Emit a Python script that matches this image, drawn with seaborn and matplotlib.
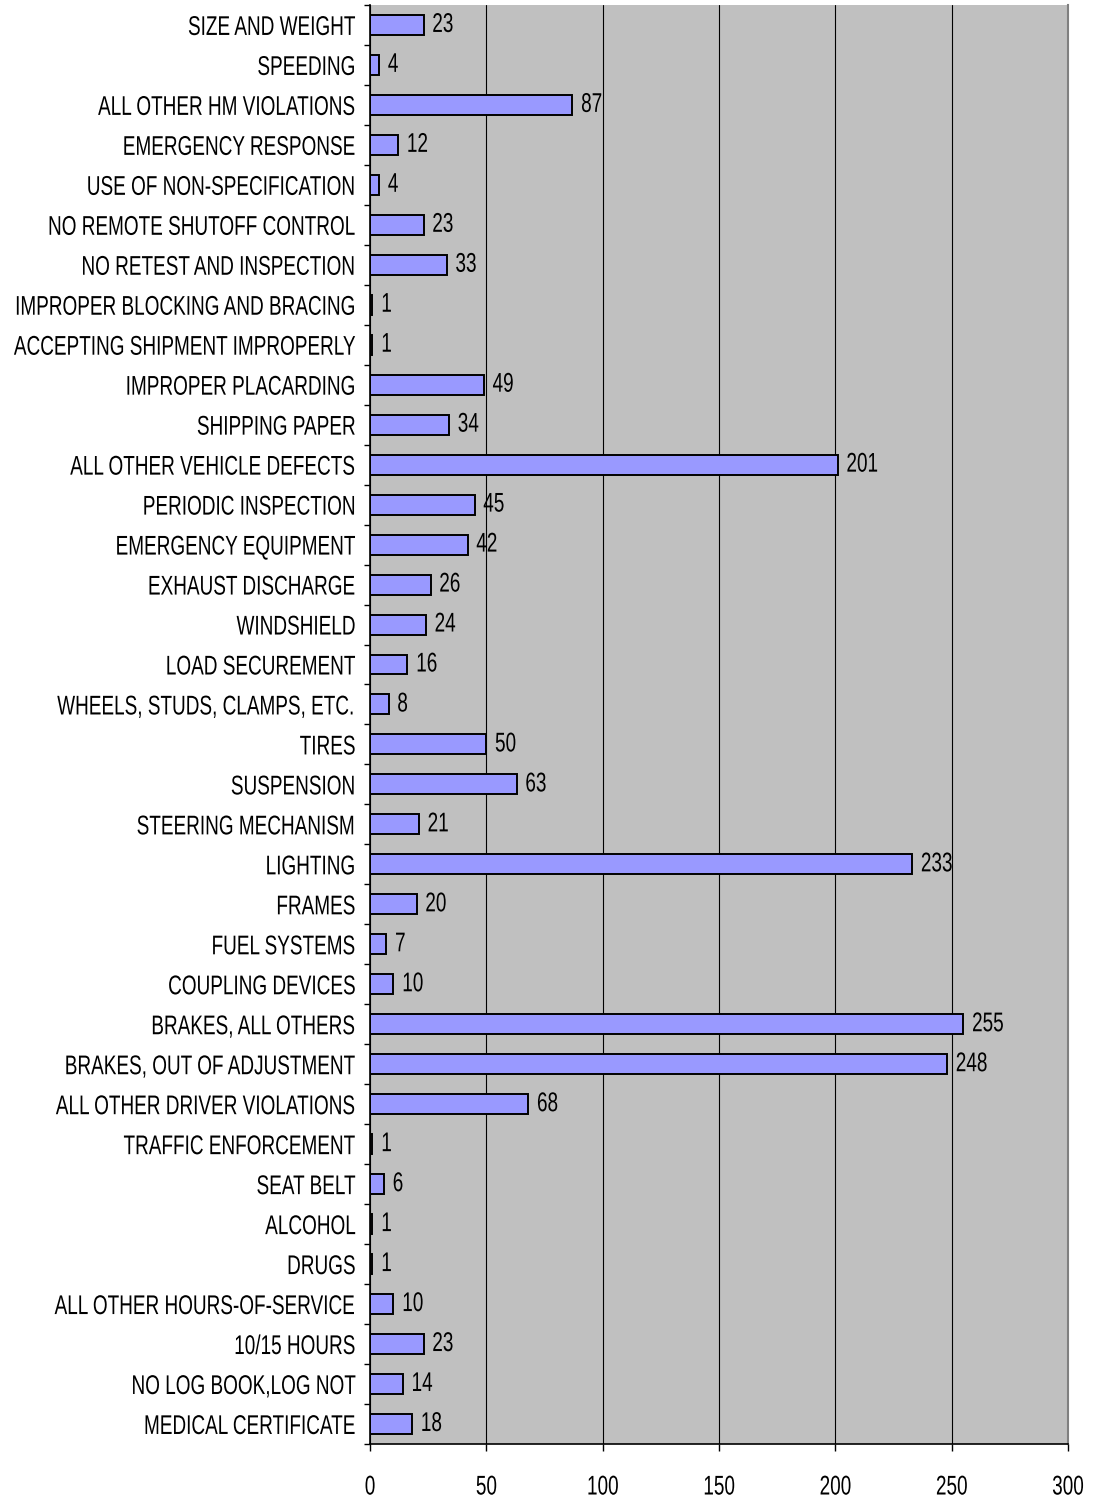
import matplotlib
matplotlib.use("Agg")
import matplotlib.pyplot as plt
from matplotlib.patheffects import AbstractPathEffect
from matplotlib.transforms import Affine2D
import numpy as np
import pandas as pd
import seaborn as sns

# Violation categories (top to bottom) and counts
categories = [
    "SIZE AND WEIGHT", "SPEEDING", "ALL OTHER HM VIOLATIONS", "EMERGENCY RESPONSE",
    "USE OF NON-SPECIFICATION", "NO REMOTE SHUTOFF CONTROL", "NO RETEST AND INSPECTION",
    "IMPROPER BLOCKING AND BRACING", "ACCEPTING SHIPMENT IMPROPERLY", "IMPROPER PLACARDING",
    "SHIPPING PAPER", "ALL OTHER VEHICLE DEFECTS", "PERIODIC INSPECTION",
    "EMERGENCY EQUIPMENT", "EXHAUST DISCHARGE", "WINDSHIELD", "LOAD SECUREMENT",
    "WHEELS, STUDS, CLAMPS, ETC.", "TIRES", "SUSPENSION", "STEERING MECHANISM",
    "LIGHTING", "FRAMES", "FUEL SYSTEMS", "COUPLING DEVICES", "BRAKES, ALL OTHERS",
    "BRAKES, OUT OF ADJUSTMENT", "ALL OTHER DRIVER VIOLATIONS", "TRAFFIC ENFORCEMENT",
    "SEAT BELT", "ALCOHOL", "DRUGS", "ALL OTHER HOURS-OF-SERVICE", "10/15 HOURS",
    "NO LOG BOOK,LOG NOT", "MEDICAL CERTIFICATE",
]
counts = [23, 4, 87, 12, 4, 23, 33, 1, 1, 49, 34, 201, 45, 42, 26, 24, 16, 8, 50, 63,
          21, 233, 20, 7, 10, 255, 248, 68, 1, 6, 1, 1, 10, 23, 14, 18]
x_ticks = [0, 50, 100, 150, 200, 250, 300]

df = pd.DataFrame({"category": categories, "count": counts})


# no narrow font installed, so squeeze the glyph outlines horizontally
class Condense(AbstractPathEffect):
    def __init__(self, sx=0.7, anchor="left"):
        super().__init__()
        self.sx = sx
        self.anchor = anchor

    def draw_path(self, renderer, gc, tpath, affine, rgbFace=None):
        ext = tpath.get_extents()
        if self.anchor == "right":
            x0 = ext.x1
        elif self.anchor == "center":
            x0 = (ext.x0 + ext.x1) / 2
        else:
            x0 = ext.x0
        t = Affine2D().translate(-x0, 0).scale(self.sx, 1).translate(x0, 0) + affine
        renderer.draw_path(gc, tpath, t, rgbFace)


SX = 0.70
FS = 19.5

sns.set_style("white")
plt.rcParams["font.family"] = ["Liberation Sans", "DejaVu Sans"]
plt.rcParams["text.color"] = "black"

fig = plt.figure(figsize=(10.98, 15.01), dpi=100)
ax = fig.add_axes([0.337, 0.038, 0.6357, 0.9587])
ax.set_facecolor("#C0C0C0")

sns.barplot(data=df, x="count", y="category", orient="h", color="#9999FF",
            saturation=1, width=0.5, edgecolor="black", linewidth=1.4, ax=ax)

# value labels
for i, v in enumerate(counts):
    ax.annotate(str(v), xy=(v, i), xytext=(6, 0), textcoords="offset points",
                va="center", ha="left", fontsize=FS, color="black",
                path_effects=[Condense(SX, "left")])

ax.set_xlim(0, 300)
ax.set_ylim(len(categories) - 0.5, -0.5)
ax.set_xticks(x_ticks)
ax.set_xlabel("")
ax.set_ylabel("")
ax.xaxis.grid(True, color="black", linewidth=0.8)
ax.set_axisbelow(True)

ax.tick_params(axis="x", labelsize=FS, length=5, width=1, direction="out", pad=17,
               bottom=True, colors="black")
ax.tick_params(axis="y", which="major", labelsize=FS, length=0, pad=10, colors="black")
ax.set_yticks(np.arange(-0.5, len(categories), 1), minor=True)
ax.tick_params(axis="y", which="minor", length=4.5, width=1, direction="out", left=True,
               color="black")

for lab in ax.get_yticklabels():
    lab.set_path_effects([Condense(SX, "right")])
for lab in ax.get_xticklabels():
    lab.set_path_effects([Condense(SX, "center")])

for s in ["left", "bottom"]:
    ax.spines[s].set_color("black")
    ax.spines[s].set_linewidth(1.2)
ax.spines["right"].set_color("#808080")
ax.spines["right"].set_linewidth(1.5)
ax.spines["top"].set_visible(False)

fig.savefig("out.png", dpi=100)
